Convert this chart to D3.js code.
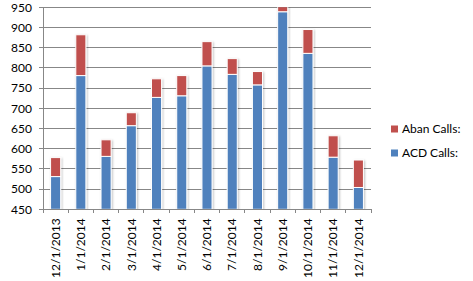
<!DOCTYPE html>
<html><head><meta charset="utf-8">
<script src="https://cdn.jsdelivr.net/npm/d3@7"></script>
<style>body{margin:0;background:#fff}svg{display:block}</style>
</head><body><svg id="c" width="473" height="281"></svg>
<script>
const categories = ["12/1/2013","1/1/2014","2/1/2014","3/1/2014","4/1/2014","5/1/2014","6/1/2014","7/1/2014","8/1/2014","9/1/2014","10/1/2014","11/1/2014","12/1/2014"];
const acdCalls  = [531, 781, 581, 657, 727, 731, 805, 784, 758, 939, 836, 579, 504];
const abanCalls = [47, 101, 41, 32, 46, 50, 60, 39, 33, 16, 59, 53, 68];
const yTicks = [450,500,550,600,650,700,750,800,850,900,950];
const seriesNames = ["Aban Calls:", "ACD Calls:"];
const colors = {"ACD Calls:":"#4F81BD","Aban Calls:":"#C0504D"};

const svg = d3.select("#c");
const font = "Lato, 'Open Sans', sans-serif";
const L=43, R=371, T=7.3, B=209.3;
const x = d3.scaleBand().domain(categories).range([L,R]).paddingInner(0.6).paddingOuter(0.3);
const xc = d3.scaleBand().domain(categories).range([L,R]);
const y = d3.scaleLinear().domain([450,950]).range([B,T]);

const defs = svg.append("defs");
const f = defs.append("filter").attr("id","sh").attr("x","-30%").attr("y","-10%").attr("width","160%").attr("height","130%");
f.append("feDropShadow").attr("dx",1).attr("dy",1).attr("stdDeviation",1).attr("flood-color","#000").attr("flood-opacity",0.25);
defs.append("clipPath").attr("id","clip").append("rect").attr("x",L).attr("y",T).attr("width",R-L+5).attr("height",B-T);

// gridlines
svg.append("g").selectAll("line").data(yTicks).join("line")
  .attr("x1",L-4).attr("x2",R).attr("y1",d=>y(d)).attr("y2",d=>y(d))
  .attr("stroke","#878787").attr("stroke-width",1).attr("shape-rendering","crispEdges");

// y labels
svg.append("g").selectAll("text").data(yTicks).join("text")
  .attr("x",L-11).attr("y",d=>y(d)).attr("dy","0.35em").attr("text-anchor","end")
  .attr("font-family",font).attr("font-size",12).attr("fill","#000").text(d=>d);

// bars
const data = categories.map((c,i)=>({c, acd:acdCalls[i], aban:abanCalls[i]}));
const bars = svg.append("g").attr("clip-path","url(#clip)");
const g = bars.selectAll("g").data(data).join("g").attr("filter","url(#sh)");
g.append("rect").attr("x",d=>x(d.c)).attr("width",x.bandwidth())
  .attr("y",d=>y(d.acd)).attr("height",d=>y(450)-y(d.acd))
  .attr("fill",colors["ACD Calls:"]).attr("stroke","#fff").attr("stroke-width",1);
g.append("rect").attr("x",d=>x(d.c)).attr("width",x.bandwidth())
  .attr("y",d=>y(d.acd+d.aban)).attr("height",d=>y(d.acd)-y(d.acd+d.aban))
  .attr("fill",colors["Aban Calls:"]).attr("stroke","#fff").attr("stroke-width",1);

// axes lines
svg.append("line").attr("x1",L).attr("x2",L).attr("y1",T).attr("y2",B).attr("stroke","#878787").attr("shape-rendering","crispEdges");
svg.append("line").attr("x1",L).attr("x2",R).attr("y1",B).attr("y2",B).attr("stroke","#878787").attr("shape-rendering","crispEdges");
const tickPos = categories.map(c=>xc(c)).concat([R]);
svg.append("g").selectAll("line").data(tickPos).join("line")
  .attr("x1",d=>d).attr("x2",d=>d).attr("y1",B).attr("y2",B+4)
  .attr("stroke","#878787").attr("shape-rendering","crispEdges");

// x labels
svg.append("g").selectAll("text").data(categories).join("text")
  .attr("transform",d=>`translate(${xc(d)+xc.bandwidth()/2},${B+9}) rotate(-90)`)
  .attr("text-anchor","end").attr("dy","0.35em")
  .attr("font-family",font).attr("font-size",12).attr("fill","#000").text(d=>d);

// legend
const lg = svg.append("g").selectAll("g").data(seriesNames).join("g")
  .attr("transform",(d,i)=>`translate(391,${129+i*24})`);
lg.append("rect").attr("x",0).attr("y",-3.5).attr("width",7).attr("height",7).attr("fill",d=>colors[d]);
lg.append("text").attr("x",11).attr("dy","0.35em").attr("font-family",font).attr("font-size",12).attr("fill","#000").text(d=>d);
</script></body></html>
